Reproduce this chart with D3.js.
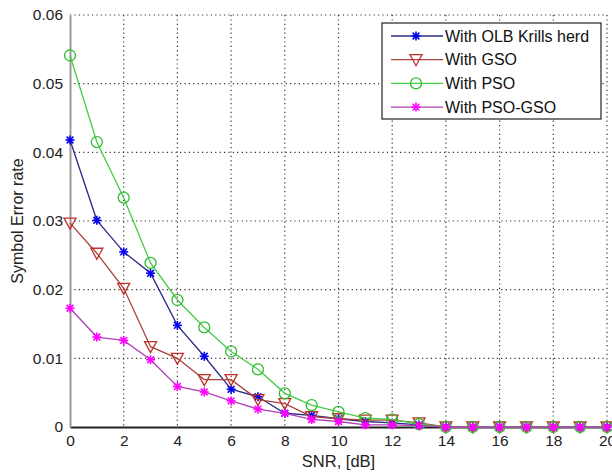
<!DOCTYPE html>
<html><head><meta charset="utf-8">
<script src="https://cdn.jsdelivr.net/npm/d3@7"></script>
<style>body{margin:0;background:#fff}svg{display:block}text{font-family:"Liberation Sans",Arial,sans-serif}</style>
</head><body>
<svg id="c" width="612" height="474"></svg>
<script>
const snr = [0,1,2,3,4,5,6,7,8,9,10,11,12,13,14,15,16,17,18,19,20];
const olbKrill = [0.0418,0.0301,0.0255,0.0224,0.0148,0.0103,0.0055,0.0044,0.0020,0.0017,0.0012,0.0008,0.0006,0.0003,0,0,0,0,0,0,0];
const gso = [0.0297,0.0253,0.0202,0.0117,0.0100,0.0069,0.0069,0.0040,0.0034,0.0015,0.0012,0.0010,0.0010,0.0006,0,0,0,0,0,0,0];
const pso = [0.0541,0.0415,0.0334,0.0239,0.0185,0.0145,0.0110,0.0084,0.0049,0.0032,0.0022,0.0013,0.0011,0.0004,0,0,0,0,0,0,0];
const psoGso = [0.0173,0.0131,0.0126,0.0098,0.0059,0.0051,0.0038,0.0026,0.0020,0.0011,0.0008,0.0003,0.0003,0.0002,0,0,0,0,0,0,0];
const seriesNames = ["With OLB Krills herd","With GSO","With PSO","With PSO-GSO"];
const xTicks = [0,2,4,6,8,10,12,14,16,18,20];
const yTicks = [0,0.01,0.02,0.03,0.04,0.05,0.06];

const svg = d3.select("#c");
const L=70,R=607,T=15,B=427;
const x = d3.scaleLinear().domain([0,20]).range([L,R]);
const y = d3.scaleLinear().domain([0,0.06]).range([B,T]);

// grid
const g = svg.append("g");
g.selectAll(".vg").data(xTicks.filter(d=>d>0)).join("line")
  .attr("x1",d=>x(d)).attr("x2",d=>x(d)).attr("y1",T).attr("y2",B)
  .attr("stroke","#333").attr("stroke-width",1.2).attr("stroke-dasharray","1.2,3.2");
g.selectAll(".hg").data(yTicks.filter(d=>d>0)).join("line")
  .attr("y1",d=>y(d)).attr("y2",d=>y(d)).attr("x1",L).attr("x2",R)
  .attr("stroke","#333").attr("stroke-width",1.2).attr("stroke-dasharray","1.2,3.2");

// axes
const xAxis = d3.axisBottom(x).tickValues(xTicks).tickSize(0).tickPadding(8).tickFormat(d3.format("d"));
const yAxis = d3.axisLeft(y).tickValues(yTicks).tickSize(0).tickPadding(7).tickFormat(d=>d===0?"0":d3.format(".2f")(d));
const ax = svg.append("g").attr("transform",`translate(0,${B})`).call(xAxis);
ax.select(".domain").attr("stroke","#222").attr("stroke-width",2);
ax.selectAll("text").attr("font-size",15.5).attr("fill","#222");
const ay = svg.append("g").attr("transform",`translate(${L},0)`).call(yAxis);
ay.select(".domain").attr("stroke","#999").attr("stroke-width",2);
ay.selectAll("text").attr("font-size",15.5).attr("fill","#222");

svg.append("text").attr("x",(L+R)/2).attr("y",467).attr("text-anchor","middle")
  .attr("font-size",16.5).attr("fill","#222").text("SNR, [dB]");
svg.append("text").attr("transform",`translate(23,${221}) rotate(-90)`).attr("text-anchor","middle")
  .attr("font-size",16).attr("fill","#222").text("Symbol Error rate");

// markers
function star(sel,cx,cy,color,r){
  const p=sel.append("g").attr("stroke",color).attr("stroke-width",1.6);
  p.append("line").attr("x1",cx-r).attr("x2",cx+r).attr("y1",cy).attr("y2",cy);
  p.append("line").attr("x1",cx).attr("x2",cx).attr("y1",cy-r).attr("y2",cy+r);
  const d=r*0.75;
  p.append("line").attr("x1",cx-d).attr("x2",cx+d).attr("y1",cy-d).attr("y2",cy+d);
  p.append("line").attr("x1",cx-d).attr("x2",cx+d).attr("y1",cy+d).attr("y2",cy-d);
}
function tri(sel,cx,cy,color){
  sel.append("path").attr("d",`M${cx-6},${cy-5}L${cx+6},${cy-5}L${cx},${cy+6}Z`)
    .attr("fill","none").attr("stroke",color).attr("stroke-width",1.3);
}
function circ(sel,cx,cy,color){
  sel.append("circle").attr("cx",cx).attr("cy",cy).attr("r",5.5)
    .attr("fill","none").attr("stroke",color).attr("stroke-width",1.3);
}
const series = [
  {vals:olbKrill,line:"#2a2a8a",mc:"#0000ee",m:"star"},
  {vals:gso,line:"#a8443c",mc:"#c0302a",m:"tri"},
  {vals:pso,line:"#44cc44",mc:"#33bb33",m:"circ"},
  {vals:psoGso,line:"#b040b8",mc:"#ff00ff",m:"star"}
];
const lineGen = d3.line().x((d,i)=>x(snr[i])).y(d=>y(d));
const plot = svg.append("g");
series.forEach(s=>{
  plot.append("path").datum(s.vals).attr("d",lineGen).attr("fill","none")
    .attr("stroke",s.line).attr("stroke-width",1.3);
  s.vals.forEach((v,i)=>{
    const cx=x(snr[i]),cy=y(v);
    if(s.m==="star") star(plot,cx,cy,s.mc,4.5);
    else if(s.m==="tri") tri(plot,cx,cy,s.mc);
    else circ(plot,cx,cy,s.mc);
  });
});

// legend
const lg = svg.append("g");
lg.append("rect").attr("x",382).attr("y",23).attr("width",219).attr("height",96)
  .attr("fill","#fff").attr("stroke","#222").attr("stroke-width",1.2);
seriesNames.forEach((n,i)=>{
  const yy=36+i*23.7, s=series[i];
  lg.append("line").attr("x1",391).attr("x2",443).attr("y1",yy).attr("y2",yy)
    .attr("stroke",s.line).attr("stroke-width",1.3);
  if(s.m==="star") star(lg,416,yy,s.mc,4.5);
  else if(s.m==="tri") tri(lg,416,yy,s.mc);
  else circ(lg,416,yy,s.mc);
  lg.append("text").attr("x",445).attr("y",yy+5.5).attr("font-size",16).attr("fill","#111").text(n);
});
</script>
</body></html>
